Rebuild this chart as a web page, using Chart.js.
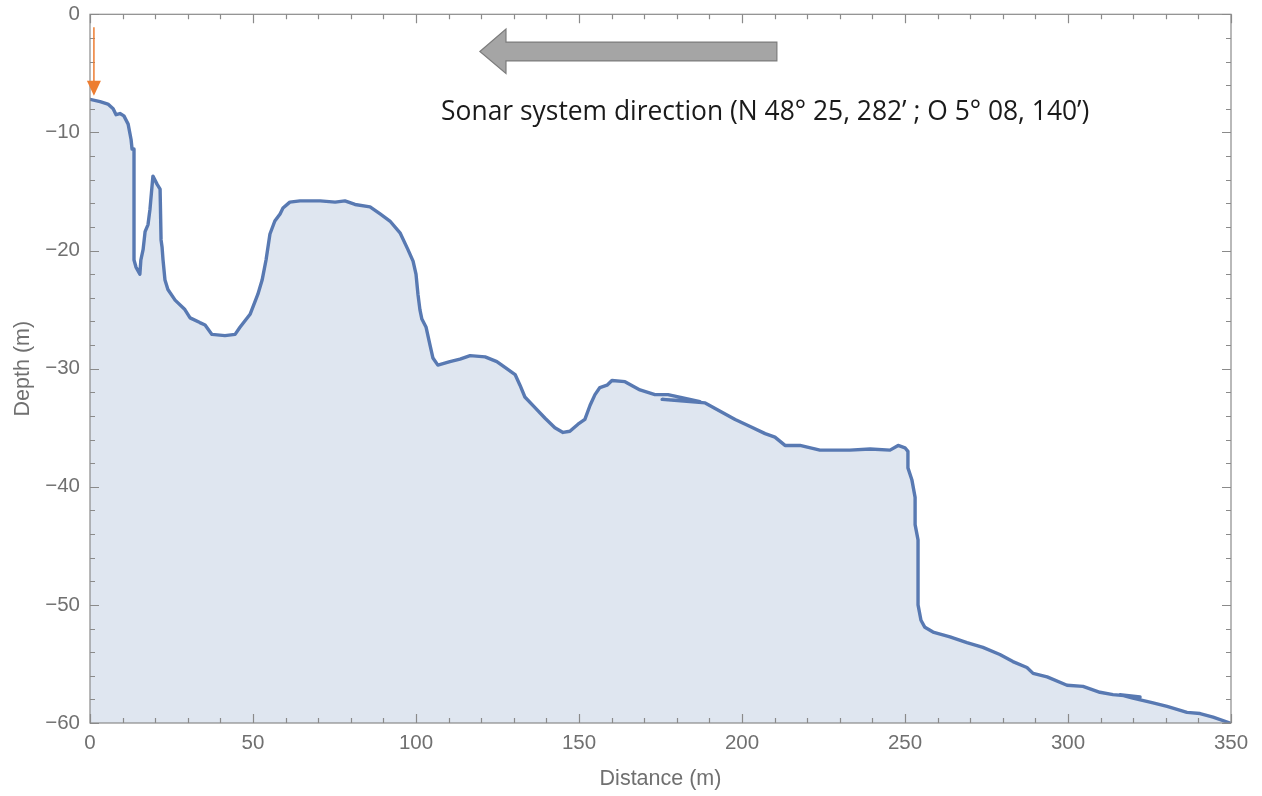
<!DOCTYPE html>
<html>
<head>
<meta charset="utf-8">
<script src="https://cdn.jsdelivr.net/npm/chart.js@4.4.1/dist/chart.umd.min.js"></script>
<style>
  html, body { margin: 0; padding: 0; background: #fff; }
  #wrap { width: 1262px; height: 796px; }
</style>
</head>
<body>
<div id="wrap"><canvas id="profil"></canvas></div>
<script>
// profile (distance in m, depth in m)
const distance = [
  0, 3.1, 5.5, 7.1, 8.0, 9.2, 10.4, 11.7, 12.6, 12.9, 13.5, 13.5, 14.1, 15.3, 15.6, 16.3, 16.9, 17.8, 18.4, 19.3,
  20.6, 21.5, 21.8, 22.1, 22.4, 23.0, 23.9, 26.1, 29.1, 30.7, 33.7, 35.3, 37.4, 41.4, 44.5, 46.0, 49.1, 51.5, 52.8, 54.0,
  55.2, 56.7, 58.3, 59.2, 61.3, 64.4, 70.6, 75.2, 78.2, 81.3, 85.9, 89.0, 92.0, 95.1, 97.5, 99.1, 100.0, 100.6, 101.2, 101.8,
  103.1, 104.3, 105.2, 106.7, 110.4, 113.5, 116.6, 121.2, 124.8, 127.3, 130.4, 131.9, 133.4, 136.5, 139.6, 142.6, 145.1, 147.2, 149.7, 151.8,
  153.4, 154.9, 156.4, 158.6, 160.1, 164.1, 168.7, 173.3, 177.3, 184.0, 187.1, 175.5, 188.7, 193.3, 197.9, 202.5, 207.1, 210.1, 213.2, 217.8,
  223.9, 233.1, 239.3, 245.4, 247.9, 250.0, 250.9, 250.9, 252.1, 253.1, 253.1, 254.0, 254.0, 254.9, 256.1, 258.6, 263.8, 269.0, 273.9, 279.1,
  283.1, 287.4, 289.3, 293.6, 299.7, 304.6, 309.8, 313.8, 322.1, 315.9, 319.9, 326.1, 330.4, 336.5, 340.5, 344.5, 349.7
];
const depth = [
  -7.2, -7.4, -7.6, -8.0, -8.5, -8.4, -8.6, -9.3, -10.6, -11.4, -11.4, -20.8, -21.4, -22.0, -20.8, -19.9, -18.4, -17.8, -16.5, -13.7,
  -14.4, -14.8, -19.1, -19.7, -20.8, -22.5, -23.3, -24.2, -25.0, -25.7, -26.1, -26.3, -27.1, -27.2, -27.1, -26.5, -25.4, -23.7, -22.5, -20.8,
  -18.6, -17.5, -16.9, -16.4, -15.9, -15.8, -15.8, -15.9, -15.8, -16.1, -16.3, -16.9, -17.5, -18.5, -19.9, -20.9, -22.0, -23.7, -25.0, -25.8,
  -26.5, -28.0, -29.1, -29.7, -29.4, -29.2, -28.9, -29.0, -29.4, -29.9, -30.5, -31.4, -32.4, -33.3, -34.2, -35.0, -35.4, -35.3, -34.7, -34.3,
  -33.1, -32.2, -31.6, -31.4, -31.0, -31.1, -31.8, -32.2, -32.2, -32.6, -32.8, -32.6, -32.9, -33.6, -34.3, -34.9, -35.5, -35.8, -36.5, -36.5,
  -36.9, -36.9, -36.8, -36.9, -36.5, -36.7, -37.0, -38.4, -39.4, -40.9, -43.2, -44.5, -50.0, -51.3, -51.9, -52.3, -52.7, -53.2, -53.6, -54.2,
  -54.8, -55.3, -55.8, -56.1, -56.8, -56.9, -57.4, -57.6, -57.8, -57.6, -57.9, -58.3, -58.6, -59.1, -59.2, -59.5, -60.0
];

const xRange = [0, 350];
const yRange = [-60, 0];
const xTitle = 'Distance (m)';
const yTitle = 'Depth (m)';
const noteText = 'Sonar system direction (N 48\u00b0 25, 282\u2019 ; O 5\u00b0 08, 140\u2019)';

const punkte = distance.map((d, i) => ({ x: d, y: depth[i] }));
const grau = '#707070';
const schrift = '"Liberation Sans", Arial, sans-serif';

// Rahmen mit Ticks nach innen (wie Mathematica)
const rahmenPlugin = {
  id: 'rahmen',
  afterDatasetsDraw(chart) {
    const { ctx, chartArea: a, scales: { x, y } } = chart;
    ctx.save();
    ctx.strokeStyle = '#8a8a8a';
    ctx.lineWidth = 1.2;
    ctx.strokeRect(a.left, a.top, a.right - a.left, a.bottom - a.top);
    ctx.beginPath();
    for (let v = xRange[0]; v <= xRange[1]; v += 10) {
      const px = Math.round(x.getPixelForValue(v)) + 0.5;
      const len = v % 50 === 0 ? 9 : 5;
      ctx.moveTo(px, a.bottom); ctx.lineTo(px, a.bottom - len);
      ctx.moveTo(px, a.top); ctx.lineTo(px, a.top + len);
    }
    for (let v = yRange[0]; v <= yRange[1]; v += 2) {
      const py = Math.round(y.getPixelForValue(v)) + 0.5;
      const len = v % 10 === 0 ? 9 : 5;
      ctx.moveTo(a.left, py); ctx.lineTo(a.left + len, py);
      ctx.moveTo(a.right, py); ctx.lineTo(a.right - len, py);
    }
    ctx.stroke();
    ctx.restore();
  }
};

// Pfeile und Beschriftung
const notizPlugin = {
  id: 'notiz',
  afterDraw(chart) {
    const { ctx, scales: { x, y } } = chart;
    ctx.save();
    // orange Pfeil auf den Startpunkt
    const ox = x.getPixelForValue(1.2);
    const oTop = y.getPixelForValue(-1.1);
    const oTip = y.getPixelForValue(-6.9);
    ctx.strokeStyle = '#ed7d31';
    ctx.fillStyle = '#ed7d31';
    ctx.lineWidth = 1.5;
    ctx.beginPath();
    ctx.moveTo(ox, oTop); ctx.lineTo(ox, oTip - 12);
    ctx.stroke();
    ctx.beginPath();
    ctx.moveTo(ox - 7, oTip - 15);
    ctx.lineTo(ox + 7, oTip - 15);
    ctx.lineTo(ox, oTip);
    ctx.closePath();
    ctx.fill();

    // grauer Blockpfeil
    const tipX = x.getPixelForValue(119.6), baseX = x.getPixelForValue(127.6), endX = x.getPixelForValue(210.7);
    const midY = y.getPixelForValue(-3.15);
    const bodyT = y.getPixelForValue(-2.35), bodyB = y.getPixelForValue(-3.95);
    const headT = y.getPixelForValue(-1.25), headB = y.getPixelForValue(-5.0);
    ctx.beginPath();
    ctx.moveTo(tipX, midY);
    ctx.lineTo(baseX, headT);
    ctx.lineTo(baseX, bodyT);
    ctx.lineTo(endX, bodyT);
    ctx.lineTo(endX, bodyB);
    ctx.lineTo(baseX, bodyB);
    ctx.lineTo(baseX, headB);
    ctx.closePath();
    ctx.fillStyle = '#a5a5a5';
    ctx.fill();
    ctx.strokeStyle = '#7c7c7c';
    ctx.lineWidth = 1.2;
    ctx.stroke();

    // Text, Breite an Vorlage angepasst
    const tx0 = x.getPixelForValue(107.7), tx1 = x.getPixelForValue(306.6);
    ctx.font = '20px "Open Sans", "Liberation Sans", sans-serif';
    const w = ctx.measureText(noteText).width;
    const size = 20 * (tx1 - tx0) / w;
    ctx.font = size.toFixed(2) + 'px "Open Sans", "Liberation Sans", sans-serif';
    ctx.fillStyle = '#1a1a1a';
    ctx.textBaseline = 'alphabetic';
    ctx.fillText(noteText, tx0, y.getPixelForValue(-8.95));
    ctx.restore();
  }
};

const minus = v => String(v).replace('-', '\u2212');

new Chart(document.getElementById('profil'), {
  type: 'line',
  data: {
    datasets: [{
      data: punkte,
      borderColor: '#5879b2',
      backgroundColor: 'rgba(94,129,181,0.2)',
      borderWidth: 3.4,
      pointRadius: 0,
      tension: 0,
      fill: 'start',
      borderJoinStyle: 'round',
      borderCapStyle: 'round'
    }]
  },
  options: {
    responsive: true,
    maintainAspectRatio: false,
    animation: false,
    layout: { padding: { top: 8, right: 31, left: 0, bottom: 0 } },
    plugins: { legend: { display: false }, tooltip: { enabled: false } },
    scales: {
      x: {
        type: 'linear',
        min: xRange[0], max: xRange[1],
        grid: { display: false },
        border: { display: false },
        ticks: { stepSize: 50, color: grau, padding: 0, font: { family: schrift, size: 20.5 }, maxRotation: 0 },
        title: { display: true, text: xTitle, color: grau, font: { family: schrift, size: 21.5 }, padding: { top: 0, bottom: 4 } },
        afterFit: s => { s.height = 73; }
      },
      y: {
        min: yRange[0], max: yRange[1],
        grid: { display: false },
        border: { display: false },
        ticks: { stepSize: 10, color: grau, padding: 2, font: { family: schrift, size: 20.5 }, callback: v => minus(v) },
        title: { display: true, text: yTitle, color: grau, font: { family: schrift, size: 21.5 }, padding: { top: 10, bottom: 0 } },
        afterFit: s => { s.width = 90; }
      }
    }
  },
  plugins: [rahmenPlugin, notizPlugin]
});
</script>
</body>
</html>
